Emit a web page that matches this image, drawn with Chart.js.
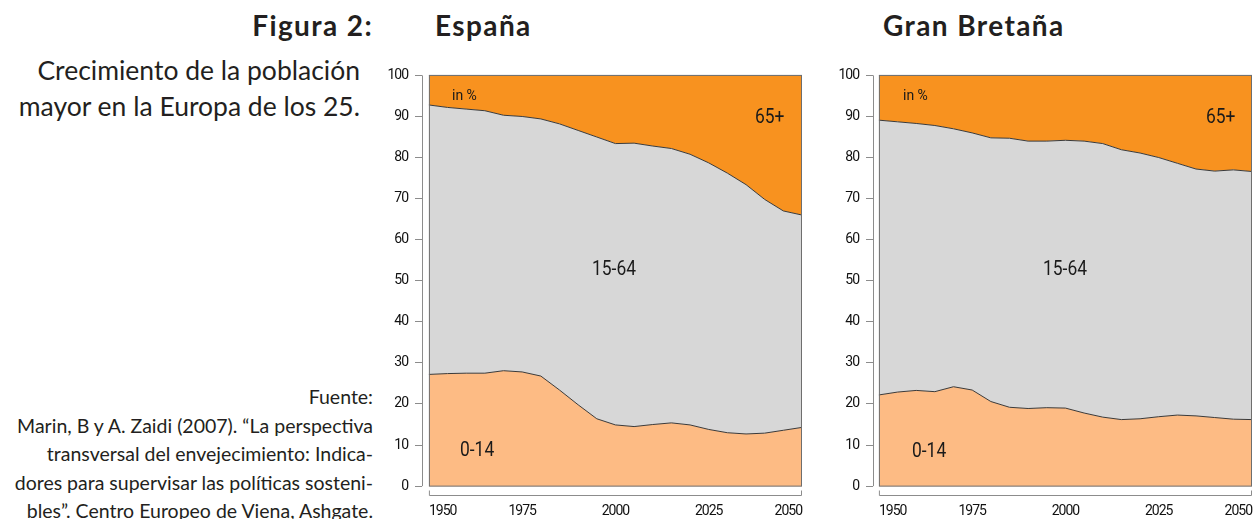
<!DOCTYPE html>
<html>
<head>
<meta charset="utf-8">
<script src="https://cdn.jsdelivr.net/npm/chart.js@4"></script>
<style>
  html, body { margin: 0; padding: 0; background: #fff; }
  body { width: 1258px; height: 519px; overflow: hidden; position: relative; font-family: Lato, "Open Sans", sans-serif; color: #231f20; }
  .side { position: absolute; text-align: right; white-space: nowrap; }
  #fig { top: 9px; right: 885px; font-weight: bold; font-size: 28px; line-height: 32px; letter-spacing: 1.4px; }
  #sub { top: 52px; right: 898px; font-size: 26.5px; line-height: 36px; }
  #src { top: 383px; right: 885px; font-size: 19.5px; line-height: 28.5px; }
  .ttl { position: absolute; top: 9px; font-weight: bold; font-size: 28px; line-height: 32px; letter-spacing: 1.4px; }
  .lbl { position: absolute; font-family: Roboto, sans-serif; color: #1a1a1a; white-space: nowrap; line-height: 1; transform-origin: 0 0; }
  .sm { font-size: 14px; }
  .big { font-size: 21px; transform: scaleX(0.83); }
  canvas { position: absolute; }
</style>
</head>
<body>
<div class="side" id="fig">Figura 2:</div>
<div class="side" id="sub">Crecimiento de la población<br>mayor en la Europa de los 25.</div>
<div class="side" id="src">Fuente:<br>Marin, B y A. Zaidi (2007). “La perspectiva<br>transversal del envejecimiento: Indica-<br>dores para supervisar las políticas sosteni-<br>bles”. Centro Europeo de Viena, Ashgate.</div>

<div class="ttl" style="left:435px">España</div>
<div class="ttl" style="left:883px">Gran Bretaña</div>

<canvas id="spain" width="430" height="470" style="left:380px; top:60px"></canvas>
<canvas id="britain" width="430" height="470" style="left:830px; top:60px"></canvas>

<div class="lbl sm" style="left:452px; top:88px">in %</div>
<div class="lbl big" style="left:755px; top:106px">65+</div>
<div class="lbl big" style="left:592px; top:258px">15-64</div>
<div class="lbl big" style="left:460px; top:439px">0-14</div>

<div class="lbl sm" style="left:903px; top:88px">in %</div>
<div class="lbl big" style="left:1206px; top:106px">65+</div>
<div class="lbl big" style="left:1043px; top:258px">15-64</div>
<div class="lbl big" style="left:912px; top:440px">0-14</div>

<script>
// years shown on the horizontal axis (every 5 years)
const years = [1950, 1955, 1960, 1965, 1970, 1975, 1980, 1985, 1990, 1995, 2000,
               2005, 2010, 2015, 2020, 2025, 2030, 2035, 2040, 2045, 2050]
const xTicks = [1950, 1975, 2000, 2025, 2050]
const yTicks = [0, 10, 20, 30, 40, 50, 60, 70, 80, 90, 100]
const ageGroups = ['0-14', '15-64', '65+']

// España, share of population in %
const spainYoung = [27.2, 27.4, 27.5, 27.5, 28.1, 27.8, 26.8, 23.4, 19.8, 16.4, 14.9,
                    14.5, 15.0, 15.4, 14.9, 13.8, 13.0, 12.7, 12.9, 13.6, 14.3]
const spainWorking = [65.6, 64.8, 64.3, 63.9, 62.2, 62.2, 62.6, 64.8, 66.8, 68.6, 68.5,
                      69.0, 67.8, 66.8, 65.9, 64.9, 63.2, 60.7, 56.9, 53.4, 51.7]
const spainOld = [7.2, 7.8, 8.2, 8.6, 9.7, 10.0, 10.6, 11.8, 13.4, 15.0, 16.6,
                  16.5, 17.2, 17.8, 19.2, 21.3, 23.8, 26.6, 30.2, 33.0, 34.0]

// Gran Bretaña, share of population in %
const britainYoung = [22.2, 22.9, 23.3, 23.0, 24.2, 23.4, 20.6, 19.2, 18.9, 19.1, 19.0,
                      17.8, 16.8, 16.2, 16.4, 16.9, 17.3, 17.1, 16.7, 16.3, 16.2]
const britainWorking = [66.9, 65.8, 65.0, 64.8, 62.8, 62.6, 64.2, 65.5, 65.1, 64.9, 65.2,
                        66.2, 66.6, 65.7, 64.7, 63.1, 61.3, 60.1, 60.0, 60.7, 60.4]
const britainOld = [10.9, 11.3, 11.7, 12.2, 13.0, 14.0, 15.2, 15.3, 16.0, 16.0, 15.8,
                    16.0, 16.6, 18.1, 18.9, 20.0, 21.4, 22.8, 23.3, 23.0, 23.4]

const fills = ['#fdbb84', '#d7d7d7', '#f8921f']
const axisColor = '#8c8c8c'
const tickFont = { family: 'Roboto, sans-serif', size: 14 }

// narrow the tick labels a bit, the original uses a condensed face
const condensed = {
  id: 'condensed',
  beforeDraw(chart) {
    if ('letterSpacing' in chart.ctx) chart.ctx.letterSpacing = '-1px'
  }
}

// R-style axes: y line from 0 to 100, x bracket from 1950 to 2050, frame around the data
const rAxes = {
  id: 'rAxes',
  afterDraw(chart) {
    const { ctx, scales: { x, y } } = chart
    const x0 = x.getPixelForValue(years[0])
    const x1 = x.getPixelForValue(years[years.length - 1])
    const y0 = y.getPixelForValue(0)
    const y1 = y.getPixelForValue(100)
    const left = chart.chartArea.left + 0.5
    const bottom = chart.chartArea.bottom + 0.5
    ctx.save()
    ctx.lineWidth = 1
    ctx.strokeStyle = axisColor
    ctx.beginPath()
    ctx.moveTo(left, y0)
    ctx.lineTo(left, y1)
    ctx.moveTo(x0 + 0.5, bottom - 5)
    ctx.lineTo(x0 + 0.5, bottom)
    ctx.lineTo(x1 - 0.5, bottom)
    ctx.lineTo(x1 - 0.5, bottom - 5)
    ctx.stroke()
    ctx.strokeStyle = '#6e6e6e'
    ctx.strokeRect(x0 + 0.5, y1, x1 - x0 - 1, y0 - y1)
    ctx.restore()
  }
}

function makeChart(id, young, working, old, xMin, yAxisWidth) {
  const series = [young, working, old]
  const datasets = series.map((vals, i) => ({
    label: ageGroups[i],
    data: years.map((yr, j) => ({ x: yr, y: vals[j] })),
    backgroundColor: fills[i],
    borderColor: '#3a3a3a',
    borderWidth: 1,
    pointRadius: 0,
    tension: 0,
    fill: i === 0 ? 'origin' : '-1'
  }))

  return new Chart(document.getElementById(id), {
    type: 'line',
    data: { datasets },
    plugins: [condensed, rAxes],
    options: {
      responsive: false,
      animation: false,
      devicePixelRatio: 1,
      layout: { padding: { top: 9, right: 2, left: 0, bottom: 0 } },
      plugins: { legend: { display: false }, tooltip: { enabled: false } },
      scales: {
        x: {
          type: 'linear',
          min: xMin,
          max: 2050,
          afterBuildTicks: (s) => { s.ticks = xTicks.map(v => ({ value: v })) },
          afterFit: (s) => { s.height = 35 },
          grid: { display: false, drawTicks: false },
          border: { display: false },
          ticks: {
            font: tickFont, color: '#111', align: 'inner', maxRotation: 0, autoSkip: false, padding: 8,
            callback: (v) => String(v)
          }
        },
        y: {
          stacked: true,
          min: -2.16,
          max: 100,
          afterBuildTicks: (s) => { s.ticks = yTicks.map(v => ({ value: v })) },
          afterFit: (s) => { s.width = yAxisWidth },
          grid: { drawOnChartArea: false, drawTicks: true, tickLength: 7, color: axisColor },
          border: { display: false },
          ticks: { font: tickFont, color: '#111', padding: 7 }
        }
      }
    }
  })
}

makeChart('spain', spainYoung, spainWorking, spainOld, 1948.15, 42)
makeChart('britain', britainYoung, britainWorking, britainOld, 1948.42, 43)
</script>
</body>
</html>
